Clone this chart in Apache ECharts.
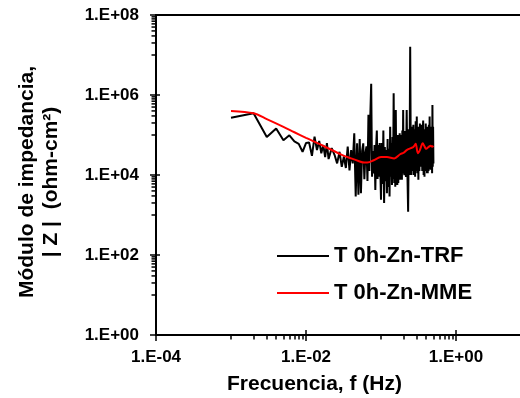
<!DOCTYPE html>
<html><head><meta charset="utf-8">
<script src="https://cdn.jsdelivr.net/npm/echarts@6/dist/echarts.min.js"></script>
<style>html,body{margin:0;padding:0;background:#fff}#c{width:520px;height:398px}</style>
</head><body><div id="c"></div>
<script>
// Frequencies (Hz) and |Z| (ohm-cm2)
const freqTRF = [0.001,0.002,0.003,0.004,0.005,0.006,0.007,0.008,0.009,0.010,0.011,0.012,0.013,0.014,0.015,0.016,0.017,0.018,0.019,0.020,
0.022,0.024,0.026,0.028,0.030,0.032,0.034,0.036,0.038,0.040,0.042,0.044,0.046,0.048,
0.050,0.052,0.054,0.056,0.058,0.060,0.062,0.064,0.066,0.068,0.070,0.072,0.074,0.076,0.078,0.080,0.082,0.084,0.086,0.088,0.090,0.092,0.094,0.096,0.098,
0.1000,0.1025,0.1050,0.1075,0.1100,0.1125,0.1150,0.1175,0.1200,0.1225,0.1250,0.1275,0.1300,0.1325,0.1350,0.1375,0.1400,0.1425,0.1450,0.1475,
0.1500,0.1525,0.1550,0.1575,0.1600,0.1625,0.1650,0.1675,0.1700,0.1725,0.1750,0.1775,0.1800,0.1825,0.1850,0.1875,0.1900,0.1925,0.1950,0.1975,
0.200,0.205,0.210,0.215,0.220,0.225,0.230,0.235,0.240,0.245,0.250,0.255,0.260,0.265,0.270,0.275,0.280,0.285,0.290,0.295,
0.300,0.305,0.310,0.315,0.320,0.325,0.330,0.335,0.340,0.345,0.350,0.355,0.360,0.365,0.370,0.375,0.380,0.385,0.390,0.395,
0.400,0.405,0.410,0.415,0.420,0.425,0.430,0.435,0.440,0.445,0.450,0.455,0.460,0.465,0.470,0.475,0.480,0.485,0.490,0.495,0.500];
const zTRF = [2.7e5,3.5e5,8.9e4,1.45e5,7.4e4,9.8e4,6.9e4,6.0e4,3.8e4,6.3e4,6.5e4,3.0e4,9.1e4,4.2e4,7.1e4,3.5e4,5.6e4,2.8e4,6.3e4,2.5e4,
4.7e4,3.2e4,1.95e4,3.8e4,1.6e4,2.9e4,1.5e4,5.1e4,1.3e4,4.2e4,1.95e4,1.1e5,2.9e3,6.2e4,
3.2e3,7.9e4,3.5e3,4.0e4,6.2e4,7.9e3,3.5e4,5.2e4,7.1e3,3.2e5,1.26e4,2.9e5,1.9e6,9.1e3,4.0e4,1.1e4,5.6e4,4.2e3,5.0e4,1.3e5,7.9e3,5.6e4,9.1e3,6.3e4,1.26e4,
2.4e3,6.3e4,6.0e3,1.3e5,2.0e3,5.0e4,7.0e3,4.2e4,3.5e3,7.9e4,5.0e3,4.5e4,2.9e3,1.6e5,9.1e3,6.3e4,5.6e3,8.9e4,7.9e3,1.1e6,
6.3e3,7.9e4,5.1e3,4.2e5,7.9e3,6.3e4,5.6e3,1.0e5,6.3e3,5.0e4,8.9e3,1.1e5,7.6e3,6.3e4,1.0e4,1.0e5,7.6e3,1.3e5,1.1e4,4.2e5,
1.3e4,1.0e4,1.26e5,8.9e3,4.2e5,1.1e4,1.2e3,1.4e5,1.0e4,1.6e7,1.6e4,1.0e4,1.6e5,1.26e4,1.8e5,1.0e4,1.4e5,9.1e3,2.2e5,1.26e4,
2.9e5,1.1e4,1.26e5,7.6e3,1.6e5,1.26e4,1.95e5,1.6e4,1.4e5,1.6e4,1.8e5,1.26e4,1.26e5,2.3e5,1.0e4,1.4e5,9.1e3,1.26e5,1.26e4,1.95e5,
1.4e4,1.6e5,1.1e4,1.26e5,1.1e4,1.6e5,1.26e4,1.8e5,1.4e4,2.9e5,1.6e4,1.26e5,1.35e4,1.6e5,1.6e4,1.26e5,1.1e4,5.6e5,1.6e4,1.6e5,1.95e4];
const freqMME = [0.001,0.002,0.003,0.005,0.007,0.01,0.015,0.02,0.03,0.04,0.05,0.06,0.07,0.08,0.1,0.12,0.15,0.18,0.2,0.22,0.25,0.27,0.29,0.31,0.33,0.36,0.38,0.40,0.43,0.46,0.48,0.5];
const zMME = [4.0e5,3.5e5,2.5e5,1.6e5,1.17e5,8.5e4,6.0e4,4.6e4,3.2e4,2.6e4,2.24e4,2.04e4,2.1e4,2.34e4,2.8e4,2.8e4,2.6e4,3.3e4,3.6e4,4.2e4,4.7e4,5.0e4,6.0e4,3.5e4,4.2e4,6.2e4,5.2e4,4.5e4,5.0e4,5.4e4,5.1e4,5.4e4];
const seriesNames = ['T 0h-Zn-TRF','T 0h-Zn-MME'];
const xMin = 1e-4, xMax = 10, yMin = 1, yMax = 1e8;
const xMajorTicks = [1e-4,1e-2,1];
const xMinorTicks = [1e-3,2e-3,3e-3,4e-3,5e-3,6e-3,7e-3,8e-3,9e-3,0.1,0.2,0.3,0.4,0.5,0.6,0.7,0.8,0.9];
const yMajorTicks = [1,1e2,1e4,1e6,1e8];
const yMinorTicks = [10,20,30,40,50,60,70,80,90,1e3,2e3,3e3,4e3,5e3,6e3,7e3,8e3,9e3,
  1e5,2e5,3e5,4e5,5e5,6e5,7e5,8e5,9e5,1e7,2e7,3e7,4e7,5e7,6e7,7e7,8e7,9e7];

const FONT = '"Liberation Sans", Arial, sans-serif';
function expLabel(v){
  const e = Math.round(Math.log10(v));
  const a = Math.abs(e);
  return '1.E' + (e < 0 ? '-' : '+') + (a < 10 ? '0' : '') + a;
}
const tickStyle = {color:'#000', width:1.5};
function xAx(extra){
  return Object.assign({type:'log', logBase:10, min:xMin, max:xMax, position:'bottom', gridIndex:0,
    splitLine:{show:false}, axisLine:{show:false}, axisLabel:{show:false}}, extra);
}
function yAx(extra){
  return Object.assign({type:'log', logBase:10, min:yMin, max:yMax, position:'left', gridIndex:0,
    splitLine:{show:false}, axisLine:{show:false}, axisLabel:{show:false}}, extra);
}
const chart = echarts.init(document.getElementById('c'), null, {renderer:'canvas'});
chart.setOption({
  animation:false,
  backgroundColor:'#fff',
  textStyle:{fontFamily:FONT},
  grid:{left:156, top:15, right:-11, bottom:63, show:true, borderColor:'#000', borderWidth:2, outerBoundsMode:'none', containLabel:false},
  legend:{
    data:seriesNames, orient:'vertical', left:277, top:245, padding:0, icon:'rect', itemWidth:52, itemHeight:2, itemGap:15,
    textStyle:{fontSize:22, fontWeight:'bold', color:'#000', fontFamily:FONT}
  },
  xAxis:[
    xAx({axisLine:{show:true, lineStyle:{color:'#000', width:2}},
      axisTick:{show:true, customValues:xMajorTicks, length:6, lineStyle:tickStyle},
      axisLabel:{show:true, customValues:xMajorTicks, formatter:expLabel, fontSize:17, fontWeight:'bold', color:'#000', fontFamily:FONT, margin:14},
      name:'Frecuencia, f (Hz)', nameLocation:'middle', nameGap:39,
      nameTextStyle:{fontSize:21, fontWeight:'bold', color:'#000', fontFamily:FONT, padding:[0,58,0,0]}}),
    xAx({axisTick:{show:true, inside:true, customValues:xMajorTicks, length:5, lineStyle:tickStyle}}),
    xAx({axisTick:{show:true, customValues:xMinorTicks, length:4.5, lineStyle:tickStyle}})
  ],
  yAxis:[
    yAx({axisLine:{show:true, lineStyle:{color:'#000', width:2}},
      axisTick:{show:true, customValues:yMajorTicks, length:6, lineStyle:tickStyle},
      axisLabel:{show:true, customValues:yMajorTicks, formatter:expLabel, fontSize:17, fontWeight:'bold', color:'#000', fontFamily:FONT, margin:17},
      name:'Módulo de impedancia,\n| Z |  (ohm-cm²)', nameLocation:'middle', nameGap:93, nameRotate:90,
      nameTextStyle:{fontSize:21, fontWeight:'bold', color:'#000', fontFamily:FONT, lineHeight:24, align:'center', padding:[0,14,0,0]}}),
    yAx({axisTick:{show:true, inside:true, customValues:yMajorTicks, length:4, lineStyle:tickStyle}})
  ],
  series:[
    {name:seriesNames[0], type:'line', xAxisIndex:0, yAxisIndex:0, symbol:'none', z:2,
      lineStyle:{color:'#000', width:2}, itemStyle:{color:'#000'},
      data:freqTRF.map((f,i)=>[f, zTRF[i]])},
    {name:seriesNames[1], type:'line', xAxisIndex:0, yAxisIndex:0, symbol:'none', smooth:0.3, z:3,
      lineStyle:{color:'#ff0000', width:2}, itemStyle:{color:'#ff0000'},
      data:freqMME.map((f,i)=>[f, zMME[i]])},
    {name:'yMinorTicks', type:'custom', xAxisIndex:0, yAxisIndex:0, clip:false, silent:true, z:1,
      data:yMinorTicks.map(v=>[xMin, v]),
      renderItem:function(params, api){
        const p = api.coord([api.value(0), api.value(1)]);
        return {type:'line', shape:{x1:p[0]-4.5, y1:p[1], x2:p[0], y2:p[1]}, style:{stroke:'#000', lineWidth:1.5}};
      }}
  ]
});
</script></body></html>
